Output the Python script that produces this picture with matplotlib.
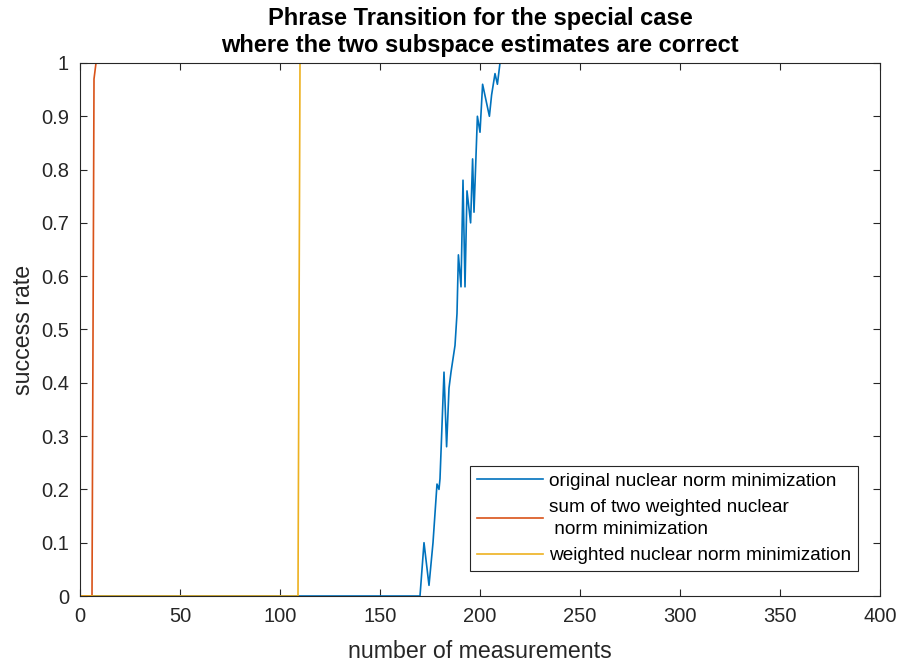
import matplotlib
matplotlib.use("Agg")
import matplotlib.pyplot as plt

plt.rcParams['font.family'] = ['Liberation Sans', 'DejaVu Sans']

# success rate vs number of measurements
blue_x = [0, 170, 172, 174.5, 176.5, 178.5, 179.5, 180, 182, 183.3, 184.5, 185.5,
          186.7, 187.5, 188.5, 189.2, 190.5, 191.5, 192.5, 193.5, 195.3, 196.3,
          197, 198.7, 200, 201.3, 203, 204.7, 205.8, 207.5, 208.7, 210, 400]
blue_y = [0, 0, 0.10, 0.02, 0.10, 0.21, 0.20, 0.22, 0.42, 0.28, 0.39, 0.42,
          0.45, 0.47, 0.53, 0.64, 0.58, 0.78, 0.58, 0.76, 0.70, 0.82,
          0.72, 0.90, 0.87, 0.96, 0.93, 0.90, 0.94, 0.98, 0.96, 1.0, 1.0]

red_x = [0, 6, 7, 8, 400]
red_y = [0, 0, 0.97, 1.0, 1.0]

yellow_x = [0, 109, 110, 400]
yellow_y = [0, 0, 1.0, 1.0]

labels = ["original nuclear norm minimization",
          "sum of two weighted nuclear\n norm minimization",
          "weighted nuclear norm minimization"]

colors = ["#0072BD", "#D95319", "#EDB120"]
dark = "#262626"

fig = plt.figure(figsize=(9.02, 6.64), dpi=100)
ax = fig.add_axes([0.0887, 0.1024, 0.8869, 0.8028])

ax.plot(blue_x, blue_y, color=colors[0], lw=1.2, label=labels[0])
ax.plot(red_x, red_y, color=colors[1], lw=1.2, label=labels[1])
ax.plot(yellow_x, yellow_y, color=colors[2], lw=1.2, label=labels[2])

ax.set_xlim(0, 400)
ax.set_ylim(0, 1)
ax.set_xticks(range(0, 401, 50))
ax.set_yticks([i / 10 for i in range(11)])
ax.set_yticklabels(["0", "0.1", "0.2", "0.3", "0.4", "0.5", "0.6", "0.7", "0.8", "0.9", "1"])
ax.tick_params(direction='in', top=True, right=True, length=5, width=0.8,
               colors=dark, labelsize=14.5, pad=8)
for s in ax.spines.values():
    s.set_color(dark)
    s.set_linewidth(0.8)

ax.set_xlabel("number of measurements", fontsize=16.7, color=dark, labelpad=10)
ax.set_ylabel("success rate", fontsize=16.7, color=dark, labelpad=4)
ax.set_title("Phrase Transition for the special case\nwhere the two subspace estimates are correct",
             fontsize=17, fontweight='bold', color='black', pad=8, linespacing=1.2)

leg = ax.legend(loc='lower right', bbox_to_anchor=(0.9725, 0.047), fontsize=13.7,
                frameon=True, fancybox=False, edgecolor=dark, framealpha=1,
                handlelength=3.5, handletextpad=0.3, borderpad=0.35,
                labelspacing=0.45, borderaxespad=0)
leg.get_frame().set_linewidth(0.8)
for t in leg.get_texts():
    t.set_linespacing(1.45)

fig.savefig("out.png", dpi=100)
